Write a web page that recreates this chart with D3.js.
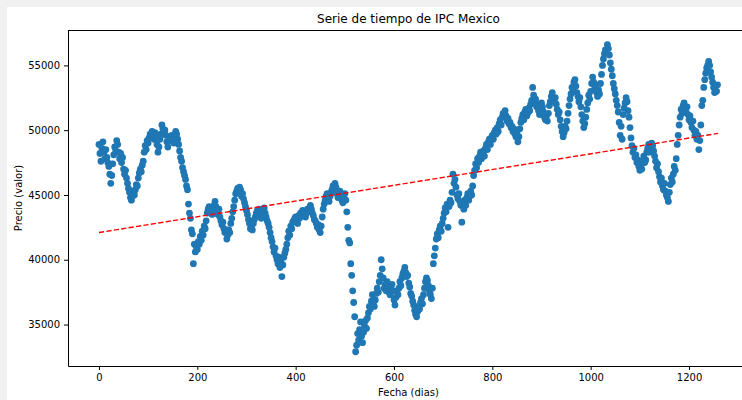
<!DOCTYPE html>
<html>
<head>
<meta charset="utf-8">
<script src="https://cdnjs.cloudflare.com/ajax/libs/d3/7.8.5/d3.min.js"></script>
<style>
    body { margin: 0; background: #f1f1f1; }
    text { font-family: "DejaVu Sans", sans-serif; fill: #000; }
    .tick line { stroke: #000; }
    .domain { stroke: #000; }
</style>
</head>
<body>
<script>
var w = 742;
var h = 400;

// precio IPC cada 2 dias (20 dias por fila)
var paso = 2;
var precios = [
    48900, 48200, 47600, 48600, 49100, 48300, 47800, 48500, 47900, 47500,
    47200, 46600, 45900, 46500, 47400, 48100, 48700, 48400, 49200, 48900,
    48300, 47800, 48200, 47500, 47900, 47000, 46600, 46900, 46300, 45900,
    45500, 45200, 44800, 44600, 44900, 45300, 45000, 45400, 45800, 45700,
    46300, 46700, 47000, 46800, 47300, 47600, 48300, 48800, 48500, 49200,
    49000, 49400, 49700, 49500, 49900, 49600, 49300, 49800, 49400, 48900,
    48300, 48700, 49300, 49700, 50400, 50100, 49800, 50000, 49600, 49100,
    48700, 49200, 49500, 49300, 49600, 49200, 49000, 49500, 49900, 49700,
    49300, 48900, 48400, 47900, 47600, 47100, 46800, 46500, 46200, 45700,
    45400, 44300, 43600, 43200, 42300, 42000, 39700, 41200, 40600, 41000,
    40800, 41400, 41200, 41800, 41500, 42200, 41900, 42600, 42400, 43000,
    43600, 43900, 44100, 43700, 44000, 43500, 43800, 44200, 44500, 44100,
    43800, 43500, 43900, 43300, 43000, 42700, 42900, 42400, 42100, 42300,
    41600, 41900, 42300, 42100, 42800, 43200, 43700, 44100, 44600, 45100,
    45300, 45500, 45200, 45600, 45400, 44900, 45100, 44700, 44400, 44100,
    43800, 43500, 43100, 42800, 42400, 42600, 42300, 42800, 43100, 43300,
    43600, 43800, 43400, 43900, 43600, 43200, 43500, 43800, 44000, 43600,
    43300, 43000, 42800, 42500, 42100, 41700, 41400, 41000, 40600, 40900,
    40300, 40000, 39700, 40200, 39400, 39900, 38700, 39600, 40200, 40500,
    40800, 41200, 41700, 42200, 41900, 42600, 42400, 42900, 43000, 43200,
    43300, 43100, 42800, 43400, 43200, 43600, 43500, 43800, 43400, 43700,
    43300, 43600, 43900, 43700, 44000, 44200, 43900, 43600, 43400, 43100,
    43000, 42800, 42500, 42700, 42300, 42100, 42600, 43300, 43900, 44300,
    44600, 44900, 45100, 44700, 44500, 44900, 45200, 45400, 45700, 45500,
    45900, 45600, 45100, 44800, 45000, 45300, 44900, 44600, 44400, 44800,
    45100, 44600, 43700, 42500, 41500, 41300, 39700, 38800, 37600, 36700,
    35600, 32900, 33400, 34300, 33800, 34600, 35200, 34100, 33600, 34400,
    34900, 35300, 34700, 35500, 35900, 36400, 36200, 36800, 37300, 36700,
    36400, 36900, 37400, 37800, 37500, 38300, 38800, 40000, 39300, 38600,
    37800, 38100, 37600, 38300, 37900, 37500, 37300, 37800, 38100, 37600,
    36900, 36500, 37100, 37600, 37300, 37800, 38300, 38000, 38600, 38900,
    39100, 39400, 39000, 38700, 38800, 38200, 37900, 37400, 37200, 36800,
    36500, 36100, 35800, 35600, 36000, 36400, 36200, 36700, 37000, 36600,
    37300, 37800, 38300, 38600, 38400, 38000, 37600, 37300, 37000, 37800,
    39700, 40300, 40900, 41600, 42000, 41700, 42300, 42600, 42200, 42800,
    43200, 43600, 44000, 43700, 44300, 42500, 44100, 44600, 44400, 45200,
    46600, 45900, 46200, 45600, 45000, 44700, 45100, 44500, 44200, 42900,
    44300, 43900, 44600, 44200, 44800, 45100, 44600, 44900, 45300, 45000,
    45700, 46500, 46900, 47400, 47100, 47800, 47500, 48000, 48300, 47800,
    48100, 48400, 48000, 48600, 48900, 48500, 49100, 49300, 48900, 49400,
    49600, 49300, 49800, 50000, 49700, 50200, 49900, 50500, 50800, 50400,
    51000, 51300, 51200, 51500, 51100, 50700, 50900, 50500, 50600, 50200,
    50300, 49900, 50100, 49700, 49500, 49800, 49100, 49500, 50100, 50600,
    50900, 51200, 50800, 51400, 51600, 51100, 51300, 51700, 51500, 52000,
    52300, 53300, 52700, 52100, 52400, 51800, 52000, 51500, 51200, 51700,
    52100, 51800, 51400, 51000, 50800, 51100, 50700, 51300, 51900, 52200,
    52600, 52900, 52400, 52200, 52500, 52000, 51600, 51200, 51400, 50800,
    50300, 49900, 49500, 49800, 50300, 50100, 50700, 51300, 51900, 52400,
    52800, 53300, 53100, 53700, 53900, 53400, 52900, 52600, 52200, 52500,
    51800, 51200, 50700, 50200, 50500, 51000, 51600, 52100, 52700, 52400,
    53000, 53600, 54100, 53700, 53200, 53500, 52900, 52600, 53100, 52800,
    53600, 54300, 55000, 55500, 55900, 56200, 56100, 56600, 56300, 55800,
    55200, 54700, 54200, 53600, 53200, 52800, 52300, 51900, 51400, 50600,
    49600, 50300, 49300, 51200, 51700, 52100, 52500, 52200, 51500, 51000,
    50200, 49400, 48800, 48300, 48600, 47900, 48100, 47500, 47700, 47200,
    46900, 47300, 47000, 47600, 48000, 47500, 47700, 48300, 48600, 48900,
    48300, 48700, 49000, 48800, 48400, 48000, 47600, 47100, 47400, 46800,
    46400, 46000, 46300, 45700, 45400, 45900, 45300, 45000, 44800, 44500,
    45200, 45800, 46300, 46000, 46600, 47200, 46900, 47800, 48900, 49600,
    50400, 51000, 51600, 51300, 51900, 52100, 51700, 51400, 51800, 51200,
    50800, 51100, 50600, 50200, 50700, 50000, 49600, 49900, 49300, 49600,
    48500, 49200, 50400, 51900, 52300, 53300, 53900, 54400, 54800, 55000,
    55300, 55000, 54500, 54100, 53700, 53300, 52900, 53400, 53000, 53500
];
var dias = precios.map((d, i) => i * paso);

// linea de tendencia (extremos)
var tendDias = [0, 1259];
var tendPrecios = [42100, 49750];

var xTicks = [0, 200, 400, 600, 800, 1000, 1200];
var yTicks = [35000, 40000, 45000, 50000, 55000];

var mLeft = 68, mTop = 30, mBottom = 366, mRight = 749;

var svg = d3.select("body")
    .append("svg")
    .attr("width", w)
    .attr("height", h)
    .style("display", "block");

// fondo blanco con borde gris arriba e izquierda
svg.append("rect")
    .attr("x", 7).attr("y", 7)
    .attr("width", w).attr("height", h)
    .attr("fill", "#fff");

var xScale = d3.scaleLinear()
    .domain([-63, 1322])
    .range([mLeft, mRight]);

var yScale = d3.scaleLinear()
    .domain([31800, 57730])
    .range([mBottom, mTop]);

//puntos
svg.append("g")
    .selectAll("circle")
    .data(precios)
    .enter()
    .append("circle")
    .attr("cx", (d, i) => xScale(dias[i]))
    .attr("cy", d => yScale(d))
    .attr("r", 3.4)
    .attr("fill", "#1f77b4");

//tendencia
svg.append("path")
    .datum(tendDias)
    .attr("fill", "none")
    .attr("stroke", "#ff0000")
    .attr("stroke-width", 1.4)
    .attr("stroke-dasharray", "5.2,2.3")
    .attr("d", d3.line()
        .x(d => xScale(d))
        .y((d, i) => yScale(tendPrecios[i])));

//ejes
var xAxis = d3.axisBottom(xScale).tickValues(xTicks).tickSize(4).tickPadding(4).tickSizeOuter(0)
    .tickFormat(d3.format("d"));
var yAxis = d3.axisLeft(yScale).tickValues(yTicks).tickSize(4).tickPadding(4).tickSizeOuter(0)
    .tickFormat(d3.format("d"));

svg.append("g")
    .attr("transform", "translate(0," + mBottom + ")")
    .call(xAxis)
    .selectAll("text").style("font-size", "10px");

svg.append("g")
    .attr("transform", "translate(" + mLeft + ",0)")
    .call(yAxis)
    .selectAll("text").style("font-size", "10px");

// marco superior y derecho
svg.append("line")
    .attr("x1", mLeft).attr("x2", mRight)
    .attr("y1", mTop + 0.5).attr("y2", mTop + 0.5)
    .attr("stroke", "#000");
svg.append("line")
    .attr("x1", mRight - 0.5).attr("x2", mRight - 0.5)
    .attr("y1", mTop).attr("y2", mBottom)
    .attr("stroke", "#000");

//titulos
var cx = (mLeft + mRight) / 2;
svg.append("text")
    .text("Serie de tiempo de IPC Mexico")
    .attr("x", cx)
    .attr("y", 23)
    .attr("text-anchor", "middle")
    .style("font-size", "12px");

svg.append("text")
    .text("Fecha (dias)")
    .attr("x", cx)
    .attr("y", 396)
    .attr("text-anchor", "middle")
    .style("font-size", "10px");

svg.append("text")
    .text("Precio (valor)")
    .attr("transform", "translate(22," + (mTop + mBottom) / 2 + ") rotate(-90)")
    .attr("text-anchor", "middle")
    .style("font-size", "10px");
</script>
</body>
</html>
